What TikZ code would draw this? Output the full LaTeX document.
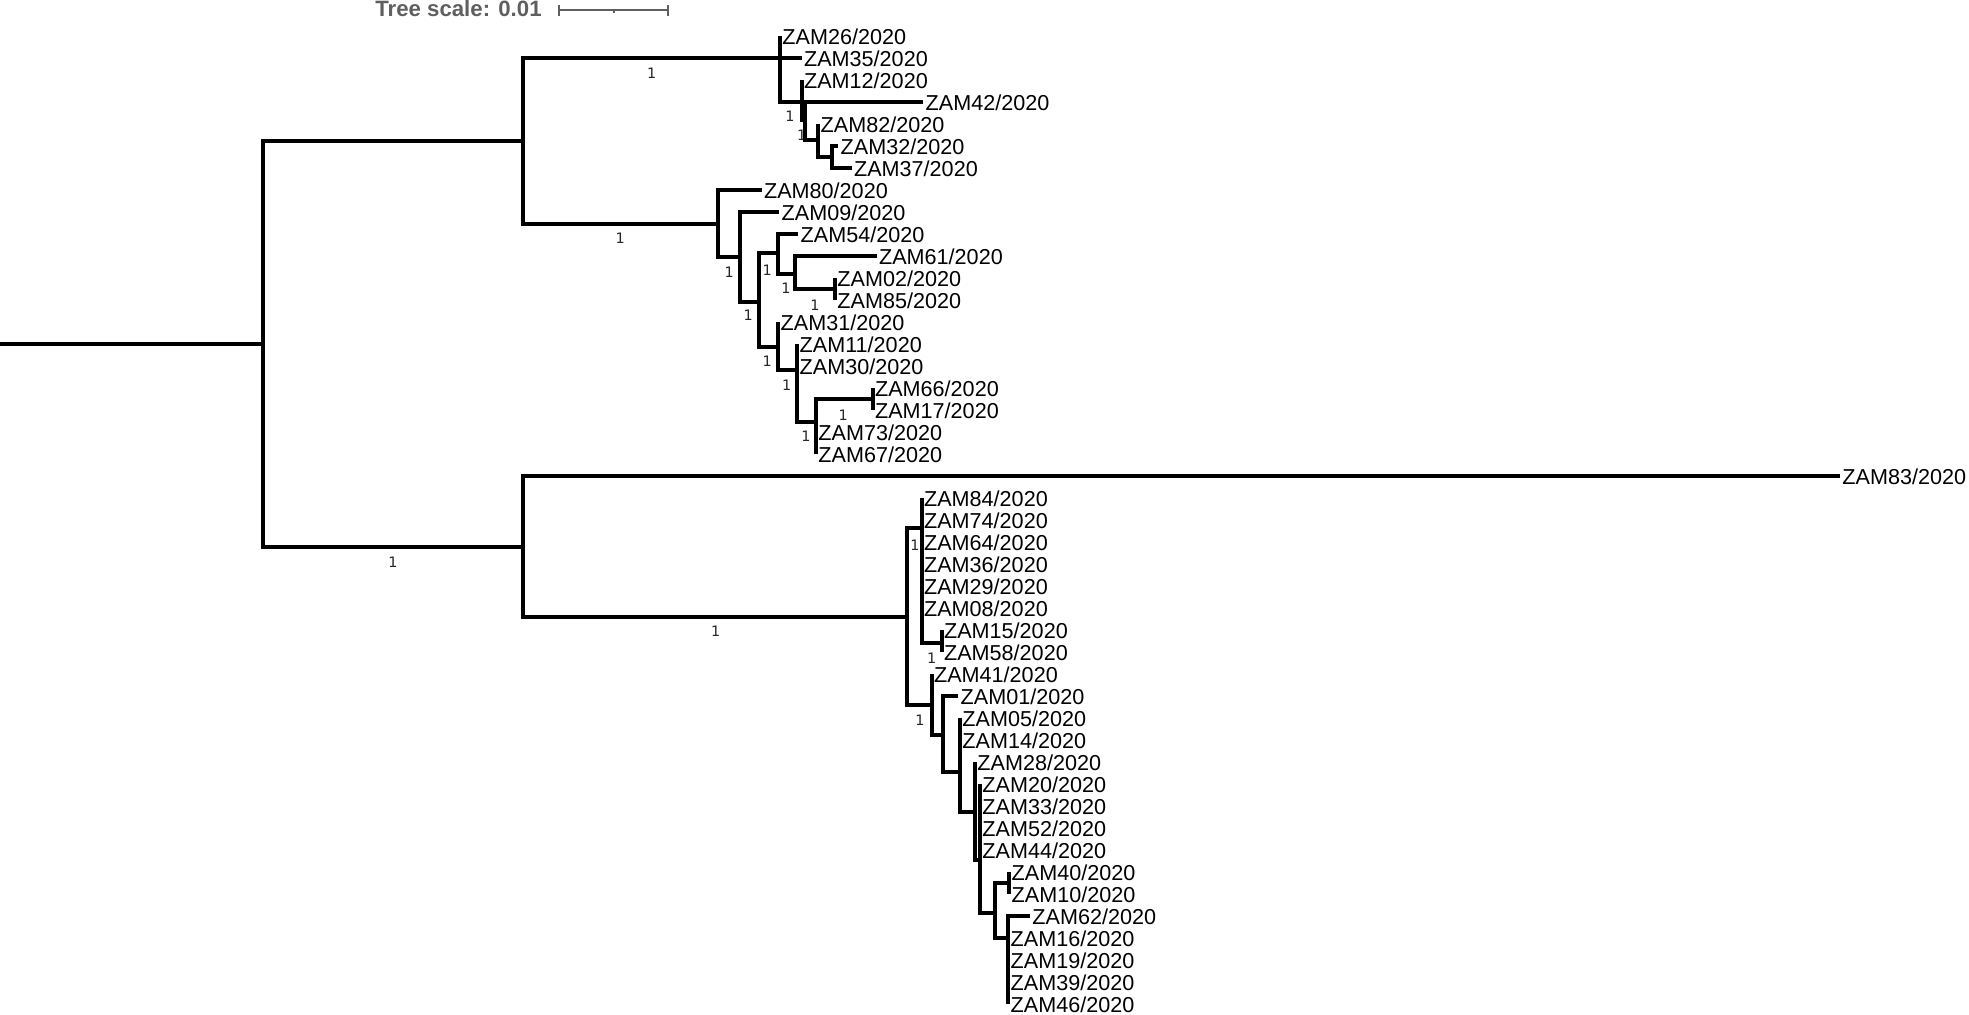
\documentclass[tikz,border=0pt]{standalone}
\usepackage{fontspec}
\setmainfont{Liberation Sans}
\newfontfamily\dejavu{DejaVu Sans}
\definecolor{scalegray}{RGB}{95,95,95}
\begin{document}
\begin{tikzpicture}[x=0.5pt,y=-0.5pt,
  br/.style={line width=2pt, line join=miter},
  leaf/.style={anchor=west, inner sep=1pt, font=\fontsize{10.8}{12}\selectfont},
  bs/.style={inner sep=0pt, font=\dejavu\fontsize{7.2}{8}\selectfont, text=black!85},
  sbar/.style={draw=scalegray, line width=1pt}]
\useasboundingbox (0,0) rectangle (1969,1014);

% tree scale
\node[anchor=base west, inner sep=0pt, font=\bfseries\fontsize{11.1}{13}\selectfont, text=scalegray] (ts) at (375,16.5) {Tree scale: 0.01};
\coordinate (sb1) at (559.3,10);
\coordinate (sb2) at (667.7,10);
\draw[sbar] (sb1) -- (sb2);
\draw[sbar] (559.3,4.5) -- (559.3,15.5);
\draw[sbar] (667.7,4.5) -- (667.7,15.5);
\draw[sbar] (613.5,10) -- (613.5,12.5);

% internal nodes
\coordinate (r0) at (0,344);
\coordinate (R) at (263,344);
\coordinate (A) at (523,141.2);
\coordinate (B) at (523,546.5);
\coordinate (A1) at (780,58.4);
\coordinate (A2) at (718.3,224);
\coordinate (N2) at (801.7,101.7);
\coordinate (N3) at (805,120);
\coordinate (N4) at (818.3,140);
\coordinate (N5) at (831.7,156.7);
\coordinate (M1) at (740,257.3);
\coordinate (M2) at (759.3,301.7);
\coordinate (M3) at (778.3,253.3);
\coordinate (M4) at (795,274);
\coordinate (M5) at (835,289.3);
\coordinate (M6) at (778.3,346.7);
\coordinate (M7) at (797.3,370);
\coordinate (M8) at (816,421.7);
\coordinate (M9) at (872.7,399.3);
\coordinate (B2) at (906.7,616.7);
\coordinate (B3) at (921.7,528.4);
\coordinate (B3a) at (941.7,642.7);
\coordinate (B4) at (931.7,705);
\coordinate (B5) at (943.3,735);
\coordinate (B6) at (960,771.7);
\coordinate (B7) at (975,811.7);
\coordinate (B8) at (980,860);
\coordinate (B9) at (995,913.3);
\coordinate (B10) at (1009.3,883.3);
\coordinate (B11) at (1008.3,938.3);

% leaf tips
\foreach \n/\x/\y in {26/780/36.4, 35/801.7/58.4, 12/801.7/80.4, 42/923.3/102.4,
  82/818.3/124.4, 32/838.3/146.4, 37/851.7/168.4, 80/761.7/190.4, 09/779.3/212.4,
  54/798.3/234.4, 61/876.7/256.4, 02/835/278.4, 85/835/300.4, 31/778.3/322.4,
  11/797.3/344.4, 30/797.3/366.4, 66/872.7/388.4, 17/872.7/410.4, 73/816/432.4,
  67/816/454.4, 83/1840/476.4, 84/921.7/498.4, 74/921.7/520.4, 64/921.7/542.4,
  36/921.7/564.4, 29/921.7/586.4, 08/921.7/608.4, 15/941.7/630.4, 58/941.7/652.4,
  41/931.7/674.4, 01/958.3/696.4, 05/960/718.4, 14/960/740.4, 28/975/762.4,
  20/980/784.4, 33/980/806.4, 52/980/828.4, 44/980/850.4, 40/1009.3/872.4,
  10/1009.3/894.4, 62/1030/916.4, 16/1008.3/938.4, 19/1008.3/960.4,
  39/1008.3/982.4, 46/1008.3/1004.4}
  {\coordinate (t\n) at (\x,\y);
   \node[leaf] (l\n) at (t\n) {ZAM\n/2020};}

% support values
\foreach \x/\y [count=\k] in {651.7/73.3, 620.3/238.6, 393/562, 715.7/631.6,
  790/116.7, 801.7/135, 729.3/272.7, 748.3/315, 767.3/270, 786/288.3, 815/305,
  767.3/361.7, 786.7/385, 806/436.7, 843.3/415, 915/545, 931.7/658.3, 920/720}
  {\node[bs] (s\k) at (\x,\y) {1};}

% branches
\draw[br] (r0) -- (R);
\foreach \p/\c in {R/A, R/B, A/A1, A/A2,
  A1/t26, A1/t35, A1/N2, N2/t12, N2/N3, N3/t42, N3/N4, N4/t82, N4/N5, N5/t32, N5/t37,
  A2/t80, A2/M1, M1/t09, M1/M2, M2/M3, M2/M6, M3/t54, M3/M4, M4/t61, M4/M5,
  M5/t02, M5/t85, M6/t31, M6/M7, M7/t11, M7/t30, M7/M8, M8/M9, M8/t73, M8/t67,
  M9/t66, M9/t17,
  B/t83, B/B2, B2/B3, B2/B4, B3/t84, B3/t74, B3/t64, B3/t36, B3/t29, B3/t08, B3/B3a,
  B3a/t15, B3a/t58, B4/t41, B4/B5, B5/t01, B5/B6, B6/t05, B6/t14, B6/B7,
  B7/t28, B7/B8, B8/t20, B8/t33, B8/t52, B8/t44, B8/B9, B9/B10, B9/B11,
  B10/t40, B10/t10, B11/t62, B11/t16, B11/t19, B11/t39, B11/t46}
  {\draw[br] (\p) |- (\c);}
\end{tikzpicture}
\end{document}
